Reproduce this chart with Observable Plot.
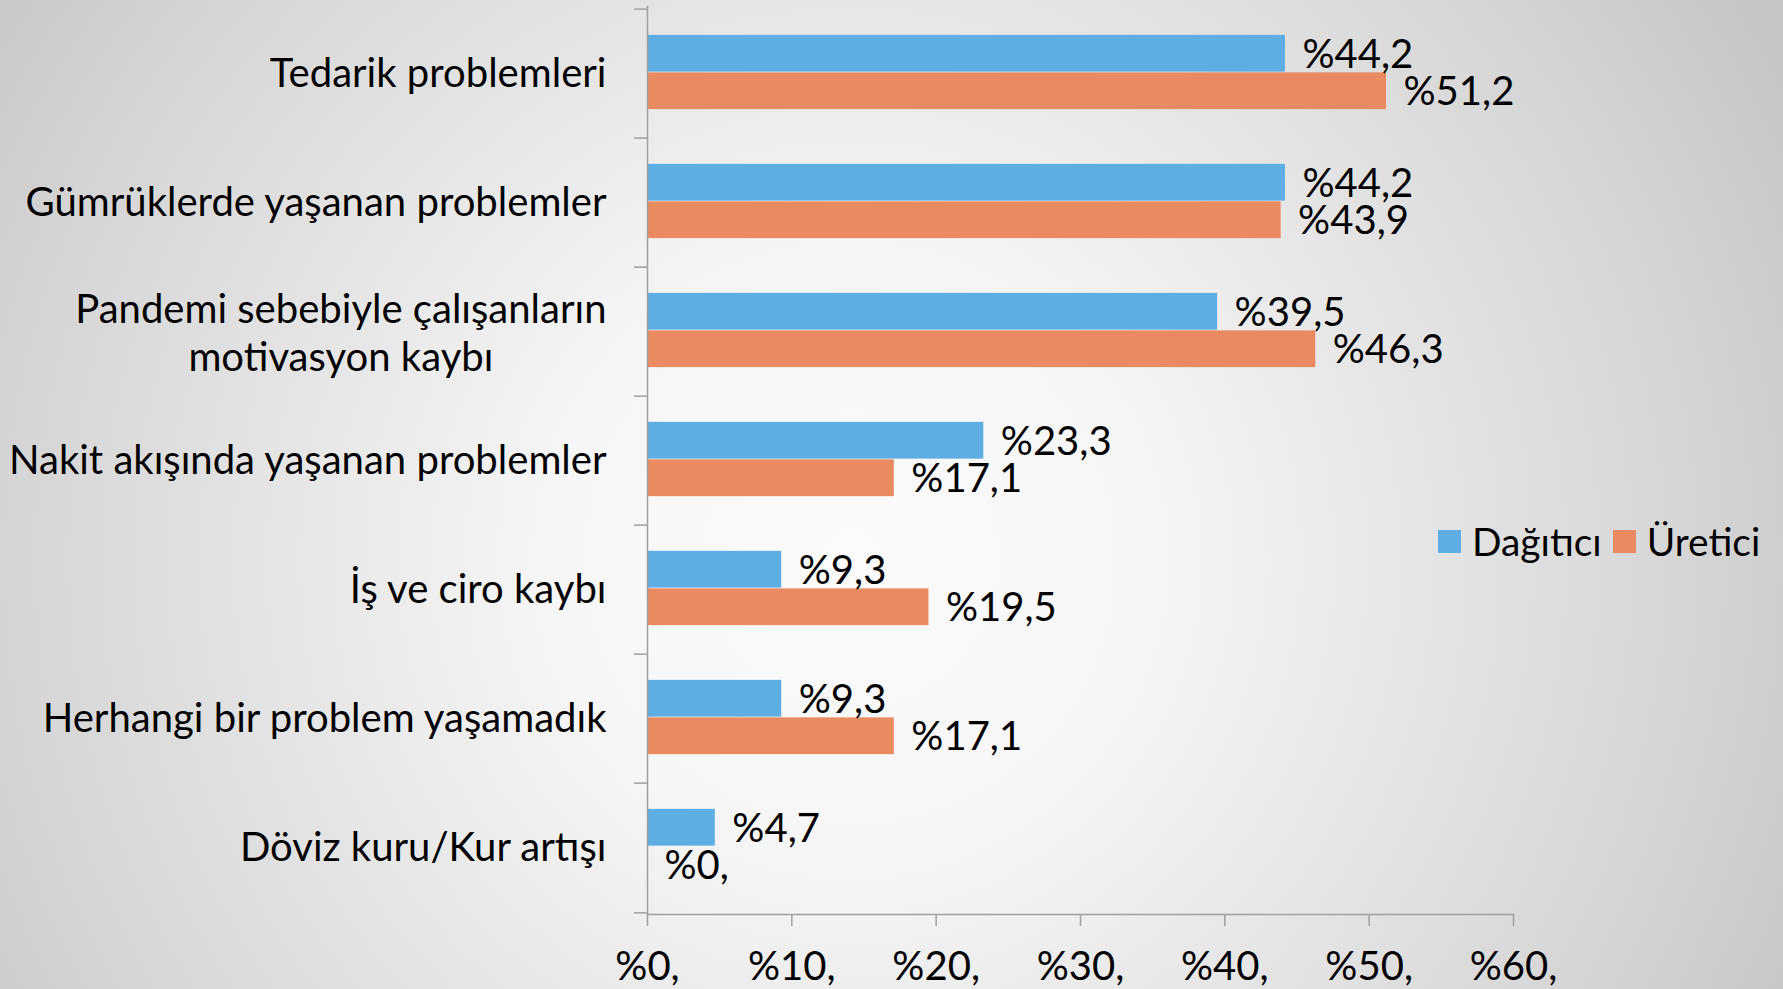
<!DOCTYPE html>
<html>
<head>
<meta charset="utf-8">
<script src="https://cdn.jsdelivr.net/npm/d3@7"></script>
<script src="https://cdn.jsdelivr.net/npm/@observablehq/plot@0.6"></script>
<style>
  html, body { margin: 0; padding: 0; }
  body {
    width: 1783px; height: 989px; overflow: hidden;
    background: radial-gradient(circle 1050px at 850px 560px, #fbfbfb 0%, #f6f6f6 28%, #d5d5d5 80%, #c6c6c6 100%);
  }
  #wrap { position: relative; width: 1783px; height: 989px; }
  #legend { position: absolute; left: 1438px; top: 518px; display: flex; align-items: center; color: #000; white-space: nowrap; }
  #legend .sw { width: 23px; height: 23px; display: inline-block; margin-right: 11px; }
  #legend .item { display: flex; align-items: center; margin-right: 11px; }
</style>
</head>
<body>
<div id="wrap"><div id="chart"></div><div id="legend"></div></div>
<script>
const categories = [
  "Tedarik problemleri",
  "Gümrüklerde yaşanan problemler",
  "Pandemi sebebiyle çalışanların motivasyon kaybı",
  "Nakit akışında yaşanan problemler",
  "İş ve ciro kaybı",
  "Herhangi bir problem yaşamadık",
  "Döviz kuru/Kur artışı"
];
const categoryLabels = [
  "Tedarik problemleri",
  "Gümrüklerde yaşanan problemler",
  "Pandemi sebebiyle çalışanların\nmotivasyon kaybı",
  "Nakit akışında yaşanan problemler",
  "İş ve ciro kaybı",
  "Herhangi bir problem yaşamadık",
  "Döviz kuru/Kur artışı"
];
const series = ["Dağıtıcı", "Üretici"];
const dagitici = [44.2, 44.2, 39.5, 23.3, 9.3, 9.3, 4.7];
const uretici = [51.2, 43.9, 46.3, 17.1, 19.5, 17.1, 0];
const xTicks = [0, 10, 20, 30, 40, 50, 60];
const colors = ["#5eade3", "#ea8a61"];

const FONT = "Lato";
// fit font size so the widest label matches the reference width
const cv = document.createElement("canvas").getContext("2d");
cv.font = `100px ${FONT}`;
const fs = 100 * 582 / cv.measureText("Gümrüklerde yaşanan problemler").width;
cv.font = `${fs}px ${FONT}`;

const W = 1783, H = 989;
const mL = 647, mR = 270, mT = 6, mB = 75;
const step = (H - mT - mB) / categories.length;
const barH = 37.5;
const shift = 1.5;
const axisColor = "#a0a0a0";

const rowsD = categories.map((c, i) => ({category: c, series: series[0], value: dagitici[i]}));
const rowsU = categories.map((c, i) => ({category: c, series: series[1], value: uretici[i]}));
const fmt = v => v === 0 ? "%0," : "%" + v.toFixed(1).replace(".", ",");

const labelRows = categories.map((c, i) => ({category: c, label: categoryLabels[i]}));
const single = labelRows.filter(d => !d.label.includes("\n"));
const multi = labelRows.filter(d => d.label.includes("\n"));

const marks = [
  Plot.barX(rowsD, {x: "value", y: "category", fill: colors[0], insetTop: step / 2 - barH - shift, insetBottom: step / 2 + shift}),
  Plot.barX(rowsU, {x: "value", y: "category", fill: colors[1], insetTop: step / 2 - shift, insetBottom: step / 2 - barH + shift}),
  Plot.text(rowsD, {x: "value", y: "category", text: d => fmt(d.value), textAnchor: "start", dx: 17, dy: -barH / 2 - shift + 1, fontSize: fs, fill: "#000"}),
  Plot.text(rowsU, {x: "value", y: "category", text: d => fmt(d.value), textAnchor: "start", dx: 17, dy: barH / 2 - shift + 1, fontSize: fs, fill: "#000"}),
  Plot.frame({anchor: "left", stroke: axisColor, strokeWidth: 1.5}),
  Plot.frame({anchor: "bottom", stroke: axisColor, strokeWidth: 1.5}),
  Plot.ruleY(categories, {y: d => d, x1: 0, x2: 0, insetLeft: -13, dy: -step / 2, stroke: axisColor, strokeWidth: 1.5}),
  Plot.ruleY(categories.slice(-1), {y: d => d, x1: 0, x2: 0, insetLeft: -13, dy: step / 2, stroke: axisColor, strokeWidth: 1.5}),
  Plot.axisX({ticks: xTicks, tickSize: 12, tickPadding: 25, tickFormat: d => "%" + d + ",", fontSize: fs, stroke: axisColor, strokeWidth: 1.5, fill: "#000", label: null}),
  Plot.text(single, {y: "category", text: "label", frameAnchor: "left", textAnchor: "end", dx: -41, fontSize: fs, fill: "#000"}),
  ...multi.map(d => {
    const w = Math.max(...d.label.split("\n").map(s => cv.measureText(s).width));
    return Plot.text([d], {y: "category", text: "label", frameAnchor: "left", textAnchor: "middle", dx: -41 - w / 2, lineHeight: 1.2, fontSize: fs, fill: "#000"});
  })
];

const chart = Plot.plot({
  width: W, height: H,
  marginLeft: mL, marginRight: mR, marginTop: mT, marginBottom: mB,
  style: {background: "transparent", fontFamily: FONT, color: "#000"},
  x: {domain: [0, 60], axis: null},
  y: {domain: categories, padding: 0, axis: null},
  marks
});
document.getElementById("chart").appendChild(chart);

const legend = document.getElementById("legend");
legend.style.fontFamily = FONT;
legend.style.fontSize = (fs * 0.97) + "px";
series.forEach((s, i) => {
  const item = document.createElement("div");
  item.className = "item";
  const sw = document.createElement("span");
  sw.className = "sw";
  sw.style.background = colors[i];
  const t = document.createElement("span");
  t.textContent = s;
  item.appendChild(sw); item.appendChild(t);
  legend.appendChild(item);
});
</script>
</body>
</html>
